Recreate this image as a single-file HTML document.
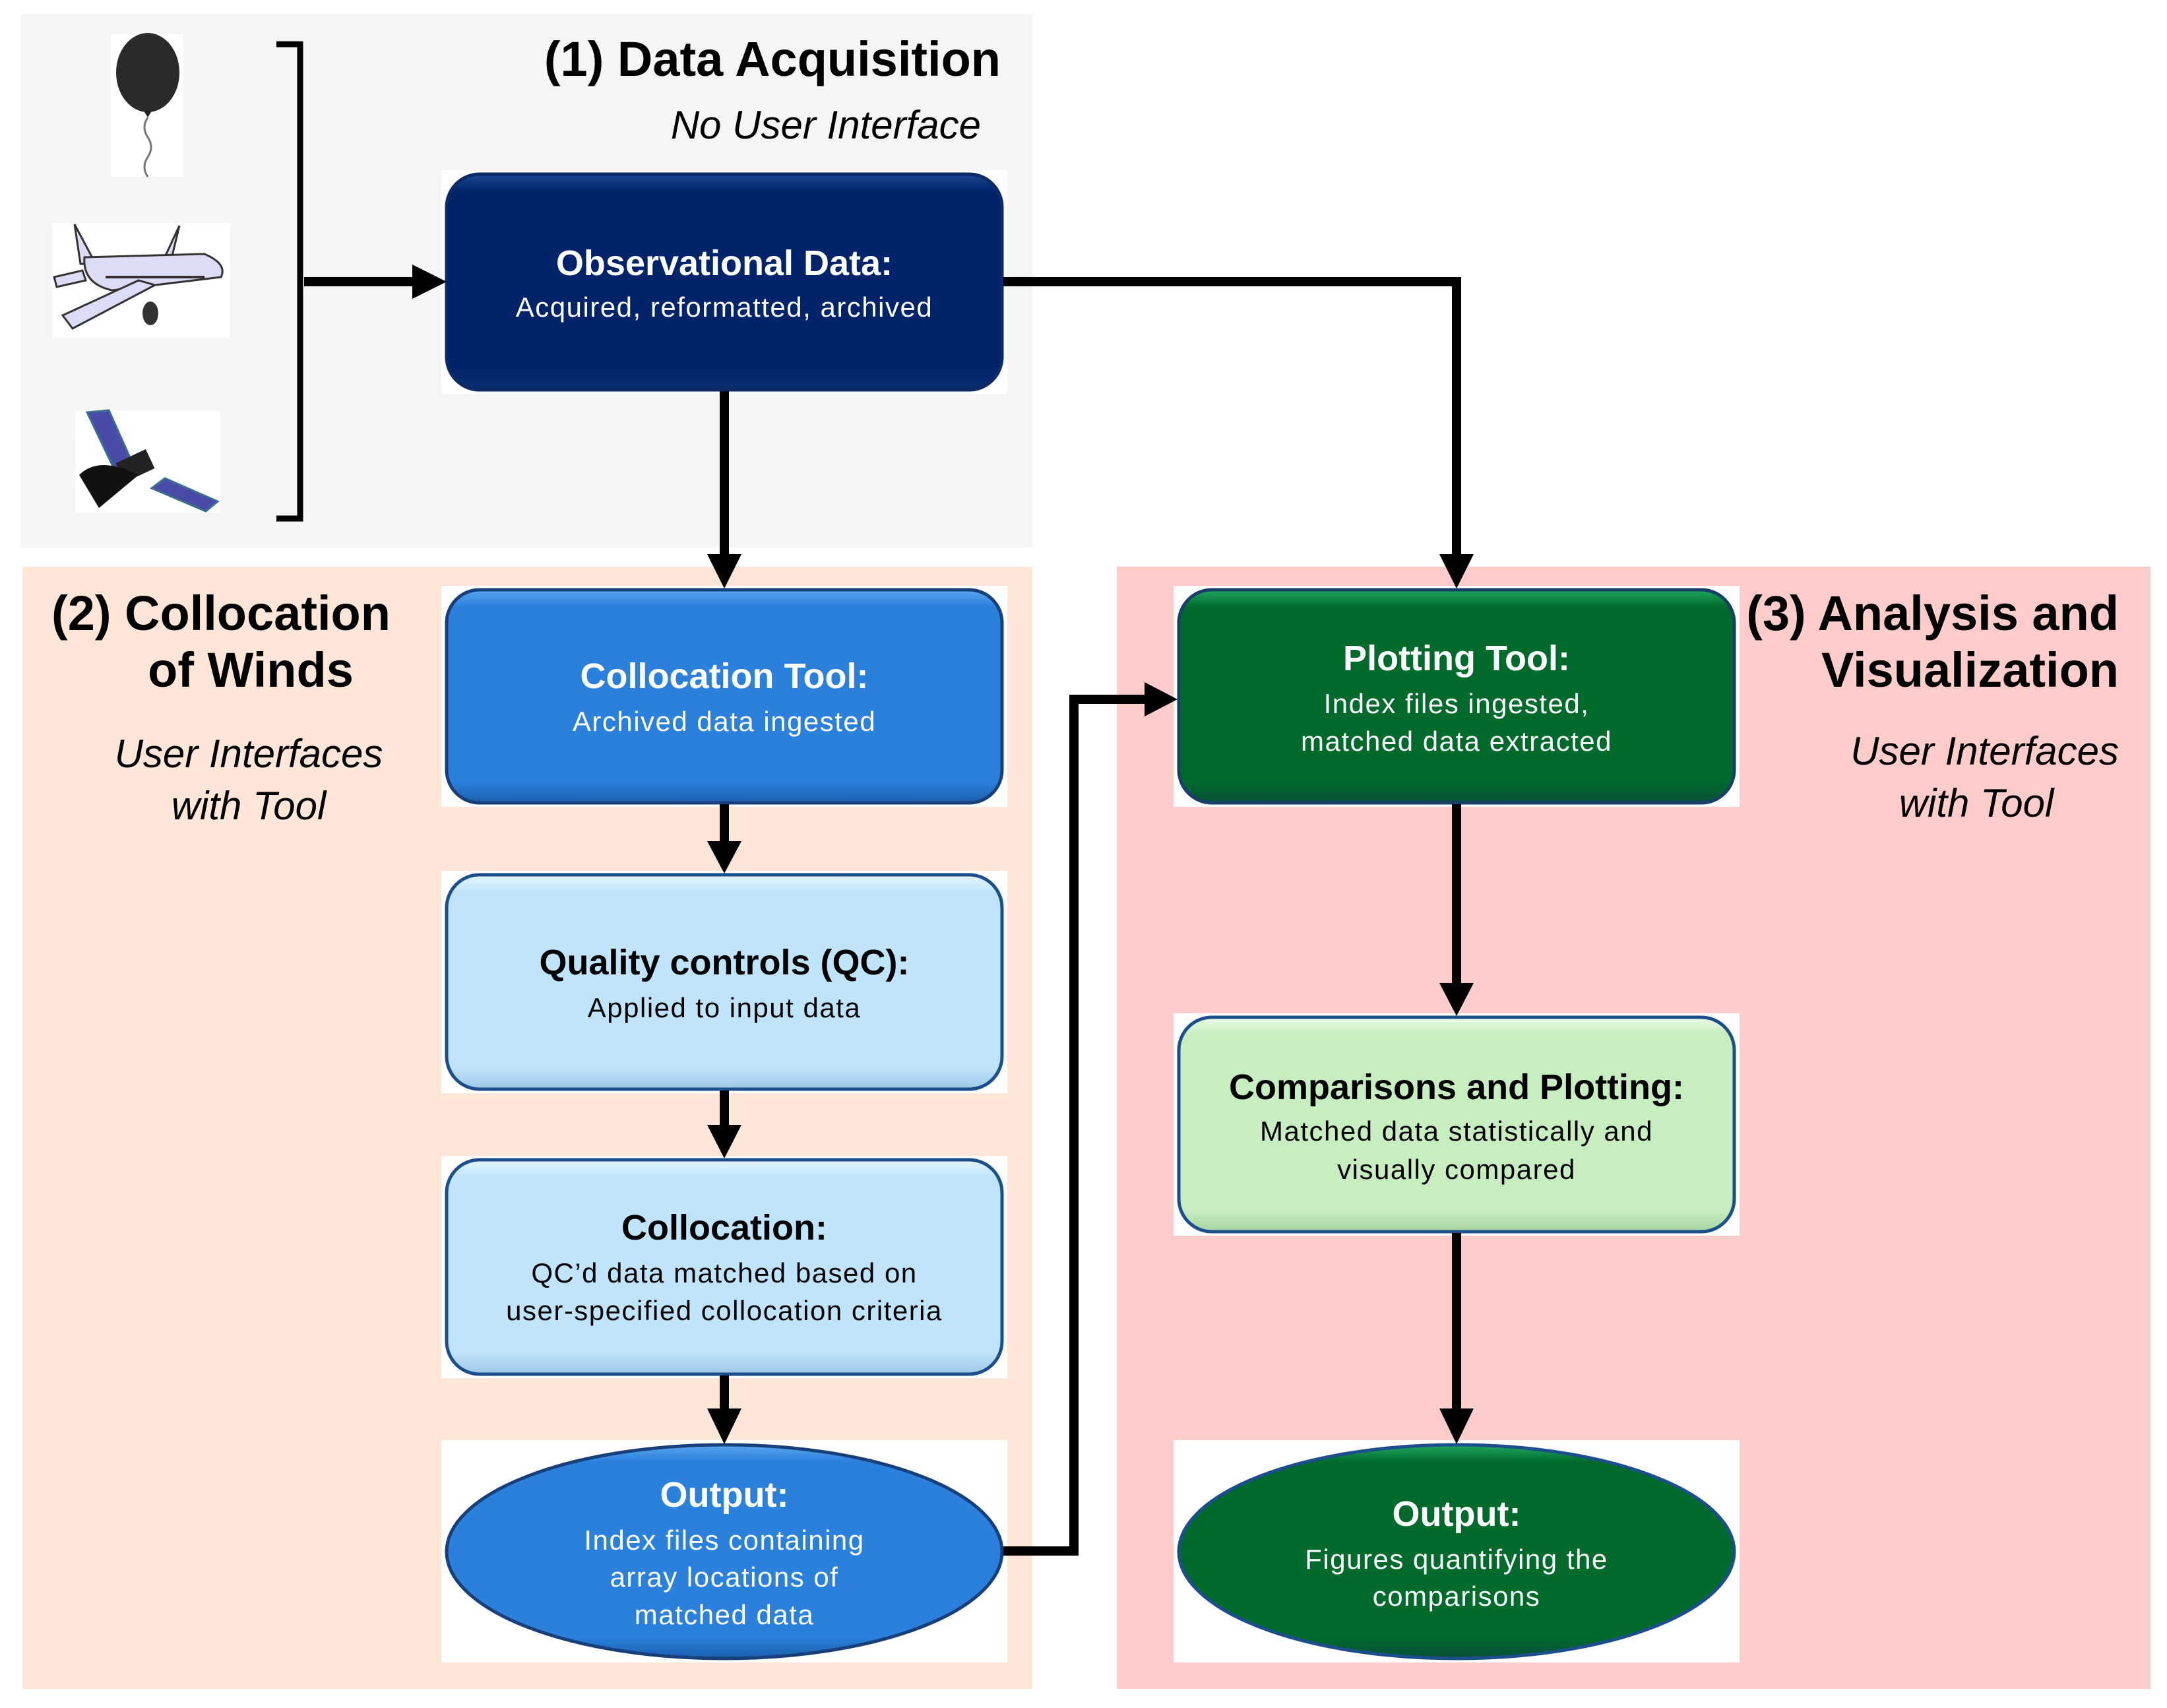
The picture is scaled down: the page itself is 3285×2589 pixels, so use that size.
<!DOCTYPE html>
<html><head><meta charset="utf-8"><style>html,body{margin:0;padding:0;background:#fff}svg{display:block}</style></head>
<body>
<svg width="3285" height="2589" viewBox="0 0 3285 2589" xmlns="http://www.w3.org/2000/svg" font-family="'Liberation Sans', Arial, sans-serif">
<defs>
<linearGradient id="gNavy" x1="0" y1="0" x2="0" y2="1"><stop offset="0" stop-color="#1c4a95"/><stop offset="0.08" stop-color="#00236a"/><stop offset="0.9" stop-color="#00236a"/><stop offset="1" stop-color="#0a2f70"/></linearGradient>
<linearGradient id="gBlue" x1="0" y1="0" x2="0" y2="1"><stop offset="0" stop-color="#5aa6ef"/><stop offset="0.08" stop-color="#2b80dc"/><stop offset="0.9" stop-color="#2b80dc"/><stop offset="1" stop-color="#1b5fae"/></linearGradient>
<linearGradient id="gLight" x1="0" y1="0" x2="0" y2="1"><stop offset="0" stop-color="#e6f5ff"/><stop offset="0.08" stop-color="#bfe4fb"/><stop offset="0.9" stop-color="#bfe4fb"/><stop offset="1" stop-color="#9cc6e6"/></linearGradient>
<linearGradient id="gGreen" x1="0" y1="0" x2="0" y2="1"><stop offset="0" stop-color="#1fa860"/><stop offset="0.08" stop-color="#006a2d"/><stop offset="0.9" stop-color="#006a2d"/><stop offset="1" stop-color="#0a4f3a"/></linearGradient>
<linearGradient id="gLGreen" x1="0" y1="0" x2="0" y2="1"><stop offset="0" stop-color="#ecfbe8"/><stop offset="0.08" stop-color="#c7edc0"/><stop offset="0.9" stop-color="#c7edc0"/><stop offset="1" stop-color="#a6d39e"/></linearGradient>
</defs>
<rect x="31" y="21" width="1534" height="809" fill="#f5f5f5"/>
<rect x="34" y="859" width="1531" height="1701" fill="#ffe6d9"/>
<rect x="1693" y="859" width="1567" height="1701" fill="#ffcccc"/>

<rect x="669" y="258" width="858" height="339" fill="#fff"/>
<rect x="669" y="888" width="858" height="335" fill="#fff"/>
<rect x="669" y="1320" width="858" height="337" fill="#fff"/>
<rect x="669" y="1752" width="858" height="337" fill="#fff"/>
<rect x="669" y="2183" width="858" height="337" fill="#fff"/>
<rect x="1779" y="888" width="858" height="335" fill="#fff"/>
<rect x="1779" y="1536" width="858" height="337" fill="#fff"/>
<rect x="1779" y="2183" width="858" height="337" fill="#fff"/>

<rect x="677" y="264" width="842" height="327" rx="50" fill="url(#gNavy)" stroke="#0b2a66" stroke-width="5"/>
<rect x="677" y="894" width="842" height="323" rx="50" fill="url(#gBlue)" stroke="#173f7a" stroke-width="5"/>
<rect x="677" y="1326" width="842" height="325" rx="50" fill="url(#gLight)" stroke="#1d4e8c" stroke-width="5"/>
<rect x="677" y="1758" width="842" height="325" rx="50" fill="url(#gLight)" stroke="#1d4e8c" stroke-width="5"/>
<ellipse cx="1098" cy="2352" rx="421" ry="162" fill="url(#gBlue)" stroke="#173f7a" stroke-width="5"/>
<rect x="1787" y="894" width="842" height="323" rx="50" fill="url(#gGreen)" stroke="#173f6a" stroke-width="5"/>
<rect x="1787" y="1542" width="842" height="325" rx="50" fill="url(#gLGreen)" stroke="#1d4e8c" stroke-width="5"/>
<ellipse cx="2208" cy="2352" rx="421" ry="162" fill="url(#gGreen)" stroke="#1d4e8c" stroke-width="5"/>

<g stroke="#000" stroke-width="14" fill="none">
<path d="M1098 593 V840"/>
<path d="M1521 427 H2208 V840"/>
<path d="M1098 1219 V1275"/>
<path d="M1098 1653 V1705"/>
<path d="M1098 2085 V2135"/>
<path d="M1521 2351 H1628 V1060 H1735"/>
<path d="M2208 1219 V1490"/>
<path d="M2208 1869 V2135"/>
<path d="M461 427 H630"/>
<path d="M419 67 H455 V786 H419" stroke-width="9"/>
</g>
<g fill="#000">
<polygon points="1072,840 1124,840 1098,892"/>
<polygon points="2182,840 2234,840 2208,892"/>
<polygon points="1072,1275 1124,1275 1098,1324"/>
<polygon points="1072,1705 1124,1705 1098,1756"/>
<polygon points="1072,2135 1124,2135 1098,2189"/>
<polygon points="2182,1490 2234,1490 2208,1540"/>
<polygon points="2182,2135 2234,2135 2208,2189"/>
<polygon points="1735,1034 1735,1086 1785,1060"/>
<polygon points="625,401 625,453 677,427"/>
</g>

<rect x="168" y="52" width="110" height="216" fill="#fff"/>
<ellipse cx="224" cy="110" rx="48" ry="60" fill="#2a2a2a"/>
<polygon points="218,168 230,168 224,178" fill="#222"/>
<path d="M224 178 q-10 15 0 30 q10 15 0 30 q-10 15 0 30" stroke="#777" stroke-width="3" fill="none"/>
<rect x="79" y="338" width="270" height="174" fill="#fff"/>
<g stroke="#333" stroke-width="3" fill="#dcdcf6">
<polygon points="113,340 122,400 145,400"/>
<polygon points="272,342 258,400 245,400"/>
<path d="M128 390 L310 385 Q345 400 335 420 L170 440 Q125 430 128 390 Z"/>
<polygon points="82,420 125,410 130,425 86,435"/>
<polygon points="95,478 210,425 235,432 110,498"/>
</g>
<g fill="#333"><rect x="160" y="418" width="150" height="4"/></g>
<ellipse cx="228" cy="475" rx="12" ry="18" fill="#333"/>
<rect x="114" y="622" width="220" height="155" fill="#fff"/>
<g stroke="#3a6f90" stroke-width="3" fill="#4a4aa8">
<polygon points="132,625 165,622 200,700 175,715"/>
<polygon points="230,740 250,725 330,760 312,775"/>
</g>
<rect x="180" y="690" width="50" height="32" fill="#222" transform="rotate(-25 205 706)"/>
<path d="M120 720 Q150 690 210 720 L150 770 Z" fill="#111"/>

<g font-weight="bold" fill="#000" font-size="74">
<text x="1517" y="115" text-anchor="end">(1) Data Acquisition</text>
<text x="335" y="955" text-anchor="middle">(2) Collocation</text>
<text x="380" y="1041" text-anchor="middle">of Winds</text>
<text x="3212" y="955" text-anchor="end">(3) Analysis and</text>
<text x="3212" y="1041" text-anchor="end">Visualization</text>
</g>
<g font-style="italic" fill="#000" font-size="60">
<text x="1487" y="210" text-anchor="end">No User Interface</text>
<text x="377" y="1163" text-anchor="middle">User Interfaces</text>
<text x="377" y="1242" text-anchor="middle">with Tool</text>
<text x="3212" y="1159" text-anchor="end">User Interfaces</text>
<text x="2996" y="1238" text-anchor="middle">with Tool</text>
</g>
<g text-anchor="middle" font-size="54" font-weight="bold">
<text x="1098" y="417" fill="#fff">Observational Data:</text>
<text x="1098" y="1043" fill="#fff">Collocation Tool:</text>
<text x="1098" y="1477" fill="#000">Quality controls (QC):</text>
<text x="1098" y="1879" fill="#000">Collocation:</text>
<text x="1098" y="2284" fill="#fff">Output:</text>
<text x="2208" y="1016" fill="#fff">Plotting Tool:</text>
<text x="2208" y="1666" fill="#000">Comparisons and Plotting:</text>
<text x="2208" y="2313" fill="#fff">Output:</text>
</g>
<g text-anchor="middle" font-size="42" letter-spacing="1.5">
<text x="1098" y="480" fill="#fff">Acquired, reformatted, archived</text>
<text x="1098" y="1108" fill="#fff">Archived data ingested</text>
<text x="1098" y="1542" fill="#000">Applied to input data</text>
<text x="1098" y="1944" fill="#000">QC’d data matched based on</text>
<text x="1098" y="2001" fill="#000">user-specified collocation criteria</text>
<text x="1098" y="2349" fill="#fff">Index files containing</text>
<text x="1098" y="2405" fill="#fff">array locations of</text>
<text x="1098" y="2462" fill="#fff">matched data</text>
<text x="2208" y="1081" fill="#fff">Index files ingested,</text>
<text x="2208" y="1138" fill="#fff">matched data extracted</text>
<text x="2208" y="1729" fill="#000">Matched data statistically and</text>
<text x="2208" y="1787" fill="#000">visually compared</text>
<text x="2208" y="2378" fill="#fff">Figures quantifying the</text>
<text x="2208" y="2434" fill="#fff">comparisons</text>
</g>
</svg>
</body></html>
